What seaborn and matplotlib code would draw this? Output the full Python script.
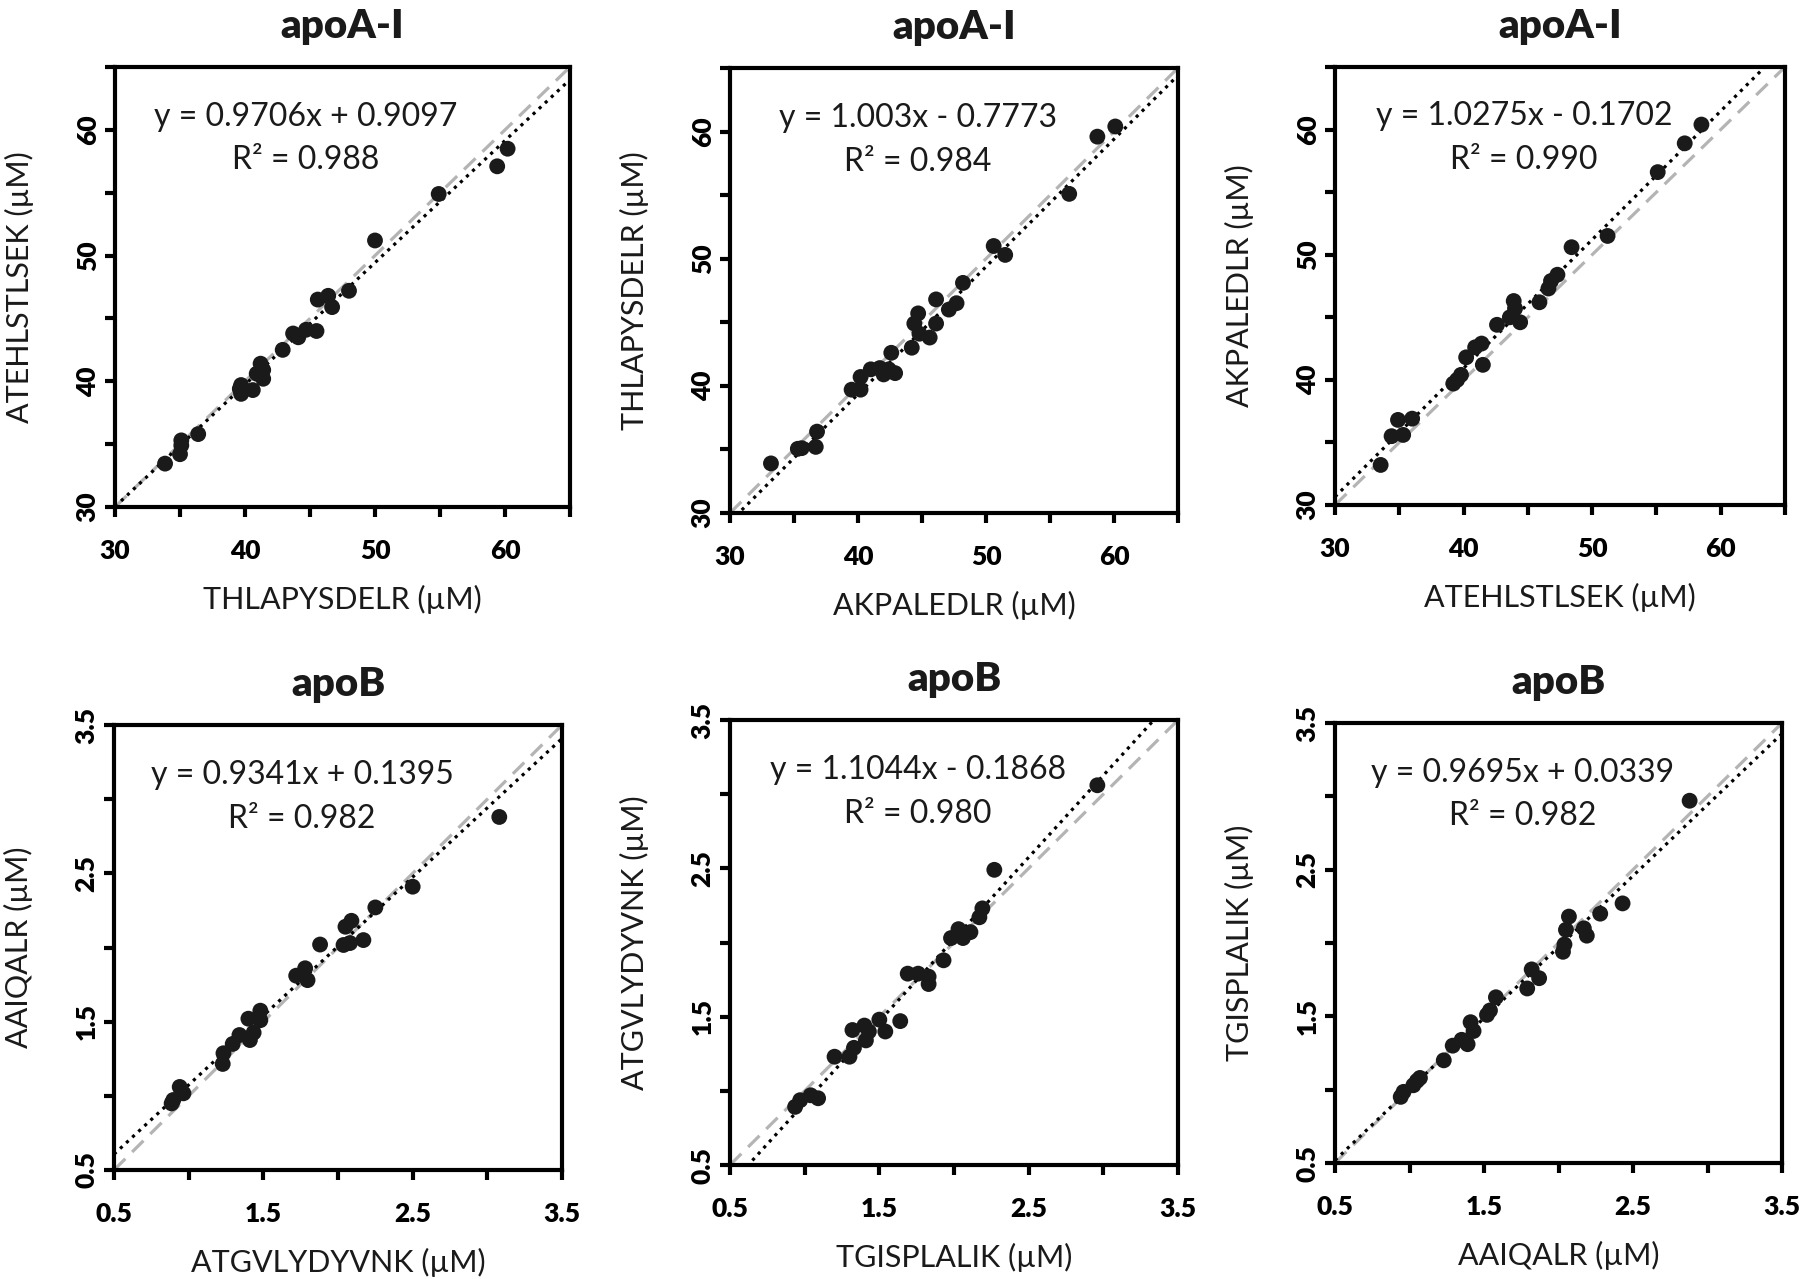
import numpy as np
import pandas as pd
import seaborn as sns
import matplotlib.pyplot as plt

sns.set_theme(style="ticks")
plt.rcParams['font.family'] = ['Lato', 'DejaVu Sans']

# ---- data ----
# apoA-I, panel 1: THLAPYSDELR vs ATEHLSTLSEK
p1_x = [33.85, 35.0, 35.1, 35.1, 36.4, 39.6, 39.7, 39.7, 40.6, 40.9, 41.2, 41.4, 41.4,
        42.9, 43.7, 44.1, 44.7, 45.5, 45.6, 46.4, 46.7, 48.0, 50.0, 54.9, 59.4, 60.2]
p1_y = [33.45, 34.2, 34.9, 35.3, 35.8, 39.4, 39.7, 39.0, 39.3, 40.6, 41.4, 40.2, 40.9,
        42.5, 43.8, 43.5, 44.1, 44.0, 46.5, 46.8, 45.9, 47.2, 51.2, 54.9, 57.1, 58.5]

# apoA-I, panel 2: AKPALEDLR vs THLAPYSDELR
p2_x = [33.2, 35.3, 35.6, 36.7, 36.8, 39.5, 40.2, 40.2, 41.0, 41.7, 42.0, 42.4, 42.9, 42.6,
        44.2, 44.4, 44.7, 44.8, 45.6, 46.1, 46.1, 47.1, 47.7, 48.2, 50.6, 51.5, 56.5, 58.7, 60.1]
p2_y = [33.9, 35.05, 35.1, 35.2, 36.4, 39.7, 39.7, 40.7, 41.3, 41.4, 40.9, 41.3, 41.0, 42.6,
        43.0, 44.9, 45.7, 44.1, 43.8, 44.9, 46.8, 46.0, 46.5, 48.1, 51.0, 50.3, 55.1, 59.6, 60.4]

# apoA-I, panel 3: ATEHLSTLSEK vs AKPALEDLR
p3_x = [33.55, 34.4, 34.9, 35.3, 36.0, 39.2, 39.5, 39.8, 40.2, 40.9, 41.4, 41.5, 42.6,
        43.6, 43.9, 44.0, 44.4, 45.9, 46.6, 46.8, 47.3, 48.4, 51.2, 55.1, 57.2, 58.5]
p3_y = [33.2, 35.5, 36.8, 35.6, 36.9, 39.7, 40.0, 40.4, 41.8, 42.6, 42.9, 41.2, 44.4,
        45.0, 46.3, 45.7, 44.6, 46.2, 47.3, 47.9, 48.4, 50.6, 51.5, 56.6, 58.9, 60.4]

# apoB, panel 4: ATGVLYDYVNK vs AAIQALR
p4_x = [0.886, 0.897, 0.94, 0.965, 1.228, 1.233, 1.295, 1.34, 1.41, 1.435, 1.40, 1.48, 1.48,
        1.72, 1.78, 1.796, 1.88, 2.037, 2.08, 2.05, 2.09, 2.17, 2.25, 2.50, 3.08]
p4_y = [0.949, 0.972, 1.06, 1.017, 1.215, 1.287, 1.35, 1.41, 1.376, 1.426, 1.52, 1.574, 1.51,
        1.81, 1.86, 1.78, 2.02, 2.017, 2.03, 2.14, 2.18, 2.05, 2.27, 2.41, 2.88]

# apoB, panel 5: TGISPLALIK vs ATGVLYDYVNK
p5_x = [0.936, 0.97, 1.04, 1.09, 1.20, 1.30, 1.33, 1.32, 1.40, 1.41, 1.43, 1.50, 1.54, 1.64,
        1.69, 1.76, 1.83, 1.83, 1.93, 1.98, 2.03, 2.06, 2.11, 2.17, 2.19, 2.27, 2.96]
p5_y = [0.892, 0.937, 0.97, 0.95, 1.23, 1.23, 1.29, 1.41, 1.44, 1.34, 1.40, 1.48, 1.40, 1.47,
        1.79, 1.79, 1.77, 1.72, 1.88, 2.03, 2.09, 2.03, 2.07, 2.17, 2.23, 2.49, 3.06]

# apoB, panel 6: AAIQALR vs TGISPLALIK
p6_x = [0.941, 0.96, 1.026, 1.05, 1.07, 1.23, 1.29, 1.35, 1.39, 1.41, 1.43, 1.52, 1.54,
        1.58, 1.79, 1.82, 1.87, 2.03, 2.04, 2.05, 2.07, 2.17, 2.19, 2.28, 2.43, 2.88]
p6_y = [0.951, 0.985, 1.03, 1.06, 1.08, 1.20, 1.30, 1.34, 1.31, 1.46, 1.40, 1.51, 1.54,
        1.63, 1.69, 1.82, 1.76, 1.94, 1.99, 2.09, 2.18, 2.10, 2.05, 2.20, 2.27, 2.97]

titles = ["apoA-I", "apoA-I", "apoA-I", "apoB", "apoB", "apoB"]
x_labels = ["THLAPYSDELR (µM)", "AKPALEDLR (µM)", "ATEHLSTLSEK (µM)",
            "ATGVLYDYVNK (µM)", "TGISPLALIK (µM)", "AAIQALR (µM)"]
y_labels = ["ATEHLSTLSEK (µM)", "THLAPYSDELR (µM)", "AKPALEDLR (µM)",
            "AAIQALR (µM)", "ATGVLYDYVNK (µM)", "TGISPLALIK (µM)"]
slopes = [0.9706, 1.003, 1.0275, 0.9341, 1.1044, 0.9695]
intercepts = [0.9097, -0.7773, -0.1702, 0.1395, -0.1868, 0.0339]
equations = ["y = 0.9706x + 0.9097", "y = 1.003x - 0.7773", "y = 1.0275x - 0.1702",
             "y = 0.9341x + 0.1395", "y = 1.1044x - 0.1868", "y = 0.9695x + 0.0339"]
r2_text = ["R² = 0.988", "R² = 0.984", "R² = 0.990", "R² = 0.982", "R² = 0.980", "R² = 0.982"]

apoa_ticks = [30, 35, 40, 45, 50, 55, 60, 65]
apoa_labels = ["30", "", "40", "", "50", "", "60", ""]
apob_ticks = [0.5, 1.0, 1.5, 2.0, 2.5, 3.0, 3.5]
apob_labels = ["0.5", "", "1.5", "", "2.5", "", "3.5"]

xs_all = [p1_x, p2_x, p3_x, p4_x, p5_x, p6_x]
ys_all = [p1_y, p2_y, p3_y, p4_y, p5_y, p6_y]

# axes boxes in pixels: left, top, right, bottom
boxes = [(115, 67, 570, 507), (730, 68, 1178, 513), (1335, 67, 1785, 505),
         (114, 725, 562, 1170), (730, 720, 1178, 1165), (1335, 723, 1782, 1163)]

W, H = 1800, 1279
fig = plt.figure(figsize=(18, 12.79), dpi=100)
fig.patch.set_facecolor("white")

ink = "#1a1a1a"

for i in range(6):
    l, t, r, b = boxes[i]
    ax = fig.add_axes([l / W, 1 - b / H, (r - l) / W, (b - t) / H])
    if i < 3:
        ticks, labels = apoa_ticks, apoa_labels
    else:
        ticks, labels = apob_ticks, apob_labels
    lo, hi = ticks[0], ticks[-1]
    ax.set_xlim(lo, hi)
    ax.set_ylim(lo, hi)

    line = np.array([lo, hi])
    ax.plot(line, line, color="#b4b4b4", lw=2.3, ls=(0, (5, 3)), zorder=1)
    ax.plot(line, slopes[i] * line + intercepts[i], color="black", lw=2.3,
            ls=(0, (1, 1.6)), zorder=2)

    d = pd.DataFrame({"x": xs_all[i], "y": ys_all[i]})
    sns.scatterplot(data=d, x="x", y="y", ax=ax, s=130, color=ink,
                    edgecolor="none", linewidth=0, zorder=3)

    ax.set_xticks(ticks)
    ax.set_yticks(ticks)
    ax.set_xticklabels(labels, fontweight="heavy", fontsize=19)
    ax.set_yticklabels(labels, fontweight="heavy", fontsize=19, rotation=90, va="center")
    ax.tick_params(direction="out", length=7, width=3, colors="black")
    ax.tick_params(axis="x", pad=16)
    ax.tick_params(axis="y", pad=4)
    for sp in ax.spines.values():
        sp.set_visible(True)
        sp.set_linewidth(3)
        sp.set_color("black")

    ax.set_title(titles[i], fontsize=29, fontweight="heavy", pad=21, color=ink)
    ax.set_xlabel(x_labels[i], fontsize=22, labelpad=16, color=ink)
    ax.set_ylabel(y_labels[i], fontsize=22, labelpad=30, color=ink)
    ax.text(0.42, 0.838, equations[i] + "\n" + r2_text[i], transform=ax.transAxes,
            ha="center", va="center", fontsize=23, linespacing=1.55, color=ink)

fig.savefig("out.png", dpi=100)
